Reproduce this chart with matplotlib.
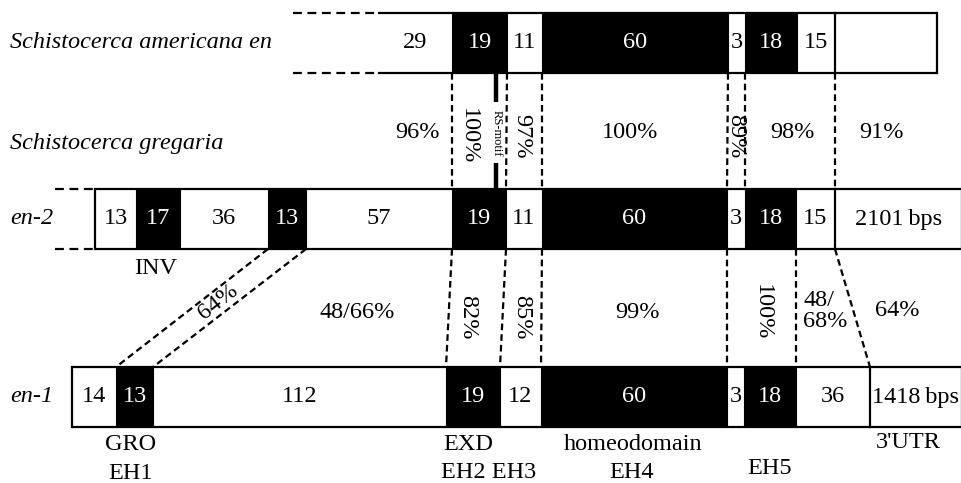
import matplotlib
matplotlib.use("Agg")
import matplotlib.pyplot as plt
from matplotlib.patches import Rectangle

plt.rcParams['font.family'] = ['Liberation Serif', 'DejaVu Serif']

# segment edges (along the gene, drawing units) + aa lengths inside
am_edges = [378, 452, 507, 542, 728, 745, 797, 835, 937]
am_labels = ['29', '19', '11', '60', '3', '18', '15', '']
am_black = [0, 1, 0, 1, 0, 1, 0, 0]

en2_edges = [95, 136, 180, 268, 306, 452, 506, 542, 727, 745, 796, 835, 962]
en2_labels = ['13', '17', '36', '13', '57', '19', '11', '60', '3', '18', '15', '2101\u2009bps']
en2_black = [0, 1, 0, 1, 0, 1, 0, 1, 0, 1, 0, 0]

en1_edges = [72, 116, 153, 446, 500, 541, 727, 744, 796, 870, 962]
en1_labels = ['14', '13', '112', '19', '12', '60', '3', '18', '36', '1418\u2009bps']
en1_black = [0, 1, 0, 1, 0, 1, 0, 1, 0, 0]

# homology links: (edge on upper row, edge on lower row)
links_am_en2 = [(452, 452), (507, 506), (542, 542), (728, 727), (745, 745), (835, 835)]
links_en2_en1 = [(268, 116), (306, 153), (452, 446), (506, 500), (542, 541),
                 (727, 727), (796, 796), (835, 870)]

# identities
ident_top = ['96%', '100%', '97%', '100%', '89%', '98%', '91%']
ident_top_x = [418, 468, 522, 630, 736, 792, 882]
ident_top_rot = [0, -90, -90, 0, -90, 0, 0]

ident_bot = ['64%', '48/66%', '82%', '85%', '99%', '100%', '48/\n68%', '64%']
ident_bot_x = [218, 357, 468, 522, 637, 762, 803, 897]
ident_bot_y = [302, 312, 317, 317, 312, 312, 311, 310]
ident_bot_rot = [38, 0, -90, -90, 0, -90, 0, 0]

domains = ['INV', 'GRO\nEH1', 'EXD', 'EH2 EH3', 'homeodomain', 'EH4', 'EH5', "3'UTR"]
domains_x = [156, 131, 468, 489, 633, 632, 770, 908]
domains_y = [269, 459, 445, 473, 445, 473, 469, 443]

rows = [('Schistocerca americana en', 43), ('Schistocerca gregaria', 143),
        ('en-2', 219), ('en-1', 397)]

FS = 17.5
H = 60
dash = (0, (3, 1.8))

fig = plt.figure(figsize=(9.61, 4.83), dpi=100)
ax = fig.add_axes([0, 0, 1, 1])
ax.set_xlim(0, 961)
ax.set_ylim(483, 0)
ax.axis('off')


def draw_row(edges, labels, black, top, left_closed=True):
    for i in range(len(labels)):
        x0, x1 = edges[i], edges[i + 1]
        fc = 'black' if black[i] else 'white'
        ax.add_patch(Rectangle((x0, top), x1 - x0, H, facecolor=fc, edgecolor='none'))
        ax.text((x0 + x1) / 2, top + H / 2, labels[i], ha='center', va='center',
                fontsize=FS, color='white' if black[i] else 'black')
    ax.plot([edges[0], edges[-1]], [top, top], color='black', lw=1.6, solid_capstyle='butt')
    ax.plot([edges[0], edges[-1]], [top + H, top + H], color='black', lw=1.6, solid_capstyle='butt')
    inner = edges[1:] if not left_closed else edges
    for x in inner:
        ax.plot([x, x], [top, top + H], color='black', lw=1.6 if x in (edges[0], edges[-1], 835, 870) else 0.8)


draw_row(am_edges, am_labels, am_black, 13, left_closed=False)
draw_row(en2_edges, en2_labels, en2_black, 189)
draw_row(en1_edges, en1_labels, en1_black, 367)

# dashed continuations on the left
for y in (13, 73):
    ax.plot([293, 378], [y, y], color='black', lw=1.6, linestyle=(0, (4, 2.5)))
for y in (189, 249):
    ax.plot([55, 95], [y, y], color='black', lw=1.6, linestyle=(0, (4, 2.5)))

for xa, xb in links_am_en2:
    ax.plot([xa, xb], [73, 189], color='black', lw=1.6, linestyle=dash)
for xa, xb in links_en2_en1:
    ax.plot([xa, xb], [249, 367], color='black', lw=1.6, linestyle=dash)

# RS-motif bar
ax.plot([496, 496], [73, 102], color='black', lw=3.2, solid_capstyle='butt')
ax.plot([496, 496], [163, 189], color='black', lw=3.2, solid_capstyle='butt')
ax.text(497, 133, 'RS-motif', rotation=-90, ha='center', va='center', fontsize=9)

for t, x, r in zip(ident_top, ident_top_x, ident_top_rot):
    ax.text(x, 133 if r == 0 else 136, t, rotation=r, ha='center', va='center', fontsize=FS)

for t, x, y, r in zip(ident_bot, ident_bot_x, ident_bot_y, ident_bot_rot):
    ha = 'left' if '\n' in t else 'center'
    ax.text(x, y, t, rotation=r, ha=ha, va='center', fontsize=FS, linespacing=1.05,
            rotation_mode='anchor' if r not in (0, -90) else 'default')

for t, x, y in zip(domains, domains_x, domains_y):
    ax.text(x, y, t, ha='center', va='center', fontsize=FS, linespacing=1.45)

for name, y in rows:
    ax.text(10, y, name, ha='left', va='center', fontsize=FS, style='italic')

fig.savefig('out.png', dpi=100)
